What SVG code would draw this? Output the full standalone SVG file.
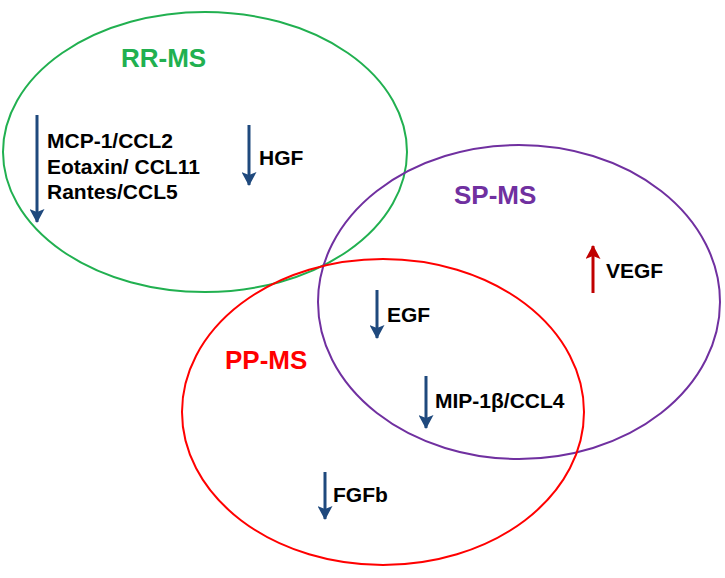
<svg xmlns="http://www.w3.org/2000/svg" width="725" height="578" viewBox="0 0 725 578">
<style>
.lbl{font-family:"Liberation Sans",Arial,sans-serif;font-weight:bold;font-size:21px;fill:#000}
.title{font-family:"Liberation Sans",Arial,sans-serif;font-weight:bold;font-size:26px}
.ell{fill:none;stroke-width:2}
.dn{stroke:#1f497d;stroke-width:3;fill:none}
.up{stroke:#c00000;stroke-width:3;fill:none}
</style>
<defs>
<marker id="hb" viewBox="0 0 14 15" refX="13" refY="7.5" markerWidth="14" markerHeight="15" orient="auto" markerUnits="userSpaceOnUse"><path d="M0,0 L14,7.5 L0,15 L3,7.5 Z" fill="#1f497d"/></marker>
<marker id="hr" viewBox="0 0 14 15" refX="13" refY="7.5" markerWidth="14" markerHeight="15" orient="auto" markerUnits="userSpaceOnUse"><path d="M0,0 L14,7.5 L0,15 L3,7.5 Z" fill="#c00000"/></marker>
</defs>
<rect width="725" height="578" fill="#fff"/>
<g id="rr-ms">
<ellipse class="ell" cx="205" cy="152" rx="202" ry="140" stroke="#21b050"/>
<text class="title" x="121" y="67" fill="#21b050">RR-MS</text>
</g>
<g id="sp-ms">
<ellipse class="ell" cx="519" cy="302" rx="201" ry="157" stroke="#7030a0"/>
<text class="title" x="454" y="204" fill="#7030a0">SP-MS</text>
</g>
<g id="pp-ms">
<ellipse class="ell" cx="383" cy="412" rx="201" ry="153" stroke="#ff0000"/>
<text class="title" x="225" y="369" fill="#ff0000">PP-MS</text>
</g>
<g id="connectors">
<line class="dn" x1="37" y1="115" x2="37" y2="222" marker-end="url(#hb)"/>
<line class="dn" x1="249" y1="125" x2="249" y2="185" marker-end="url(#hb)"/>
<line class="up" x1="593" y1="293" x2="593" y2="246" marker-end="url(#hr)"/>
<line class="dn" x1="377" y1="290" x2="377" y2="338" marker-end="url(#hb)"/>
<line class="dn" x1="426" y1="376" x2="426" y2="428" marker-end="url(#hb)"/>
<line class="dn" x1="325" y1="472" x2="325" y2="519" marker-end="url(#hb)"/>
</g>
<g id="labels">
<text class="lbl" x="47" y="148">MCP-1/CCL2</text>
<text class="lbl" x="47" y="174">Eotaxin/ CCL11</text>
<text class="lbl" x="47" y="199">Rantes/CCL5</text>
<text class="lbl" x="259" y="165">HGF</text>
<text class="lbl" x="606" y="278">VEGF</text>
<text class="lbl" x="387" y="322">EGF</text>
<text class="lbl" x="435" y="408">MIP-1β/CCL4</text>
<text class="lbl" x="333" y="502">FGFb</text>
</g>
</svg>
